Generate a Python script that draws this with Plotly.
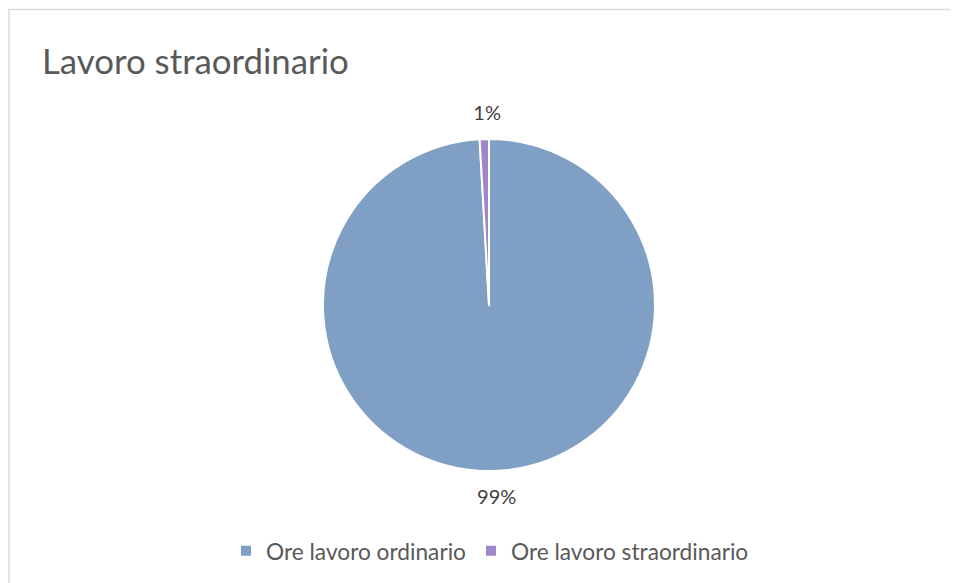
import plotly.graph_objects as go

labels = ["Ore lavoro ordinario", "Ore lavoro straordinario"]
values = [99.1, 0.9]
colors = ["#7F9FC4", "#9E86C9"]

# page body has an 8px margin: work in figure pixels = reference pixels - 8
OFF = 8
W, H = 958 - OFF, 583 - OFF
CX, CY, R = 489 - OFF, 305 - OFF, 166
RL = R + 13  # radius of the invisible rings that carry the percent labels


def dom(r, dx=0, dy=0):
    cx, cy = CX + dx, CY + dy
    return dict(x=[(cx - r) / W, (cx + r) / W], y=[(H - cy - r) / H, (H - cy + r) / H])


fig = go.Figure()
# transparent label carriers, one per slice label (offset to centre the text like the reference)
for tmpl, dx, dy in [(["%{percent:.0%}", ""], -23, 0), (["", "%{percent:.0%}"], 23, -2)]:
    fig.add_trace(go.Pie(
        labels=labels, values=values, sort=False, direction="clockwise", rotation=0,
        marker=dict(colors=["rgba(0,0,0,0)"] * 2, line=dict(width=0)),
        texttemplate=tmpl, textposition="outside",
        textfont=dict(size=20, color="#404040", family="Lato"),
        domain=dom(RL, dx, dy), hoverinfo="skip", showlegend=False,
    ))
fig.add_trace(go.Pie(
    labels=labels, values=values, sort=False, direction="clockwise", rotation=0,
    marker=dict(colors=colors, line=dict(color="white", width=2)),
    textinfo="none", domain=dom(R),
    hoverinfo="label+percent", showlegend=True,
))
fig.update_layout(
    width=W, height=H, margin=dict(l=0, r=0, t=0, b=0),
    paper_bgcolor="white", plot_bgcolor="white",
    font=dict(family="Lato", color="#595959"),
    title=dict(text="Lavoro straordinario", x=(42 - OFF) / W, xanchor="left",
               y=1 - (62 - OFF) / H, yanchor="middle",
               font=dict(size=34.8, color="#595959", family="Lato")),
    legend=dict(orientation="h", x=(490 - OFF) / W, xanchor="center",
                y=1 - (551 - OFF) / H, yanchor="middle",
                font=dict(size=22.7, color="#595959", family="Lato"), itemwidth=30),
    shapes=[dict(type="rect", xref="paper", yref="paper", x0=(9 - OFF) / W, x1=(958.5 - OFF) / W,
                 y0=-0.02, y1=1 - (9.5 - OFF) / H,
                 line=dict(color="#D9D9D9", width=1.5))],
)
fig.write_html("out.html")
